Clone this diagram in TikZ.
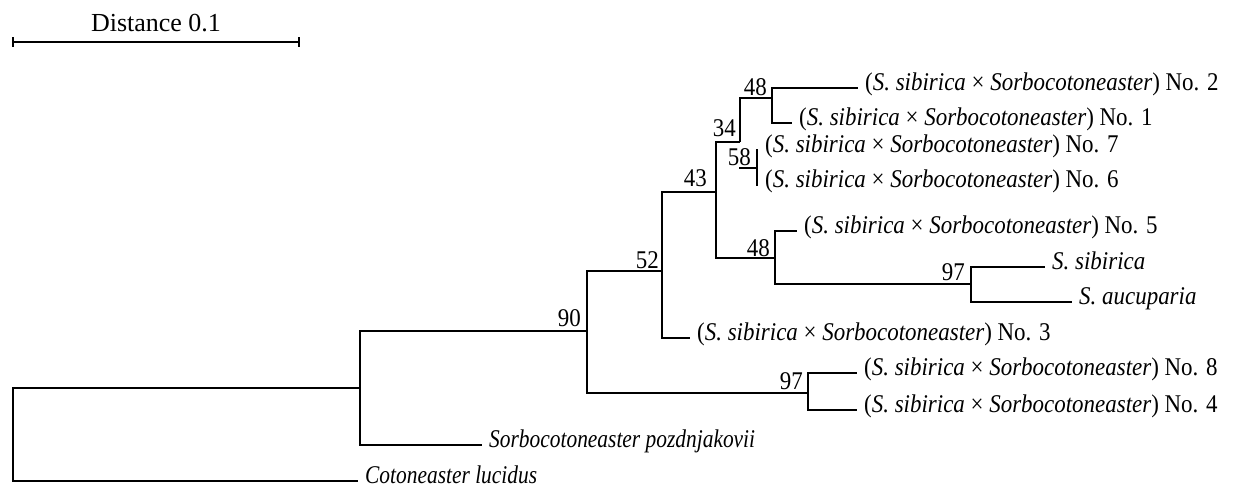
\documentclass[tikz,border=0pt]{standalone}
\usepackage{fontspec}
\setmainfont{Liberation Serif}[FakeStretch=0.9]
\newfontfamily\scalefont{Liberation Serif}
\newfontfamily\narrowfont{Liberation Serif}[FakeStretch=0.84]
\begin{document}
\begin{tikzpicture}[x=1pt,y=-1pt,line width=2.4pt,
  txt/.style={font=\fontsize{25.5}{30}\selectfont},
  leaf/.style={txt,anchor=west,inner xsep=6pt,inner ysep=0pt,text height=0.72em,text depth=0.18em},
  narrowleaf/.style={leaf,font=\narrowfont\fontsize{25.5}{30}\selectfont},
  boot/.style={txt,anchor=base east,inner sep=0pt},
  branch/.style={draw,line join=miter}]
\useasboundingbox (0,0) rectangle (1236,489);

% scale bar
\coordinate (sbL) at (13,42);
\coordinate (sbR) at (299,42);
\draw (sbL) -- (sbR);
\draw ([yshift=-5pt]sbL) -- ([yshift=5pt]sbL);
\draw ([yshift=-5pt]sbR) -- ([yshift=5pt]sbR);
\node[font=\scalefont\fontsize{26}{30}\selectfont,anchor=base,inner sep=0pt] (sbT) at (156,32) {Distance 0.1};

% internal nodes (x of the vertical bar, y of the incoming branch)
\coordinate (root) at (13,434);
\coordinate (nA)   at (360,388);
\coordinate (n90)  at (587,331);
\coordinate (n52)  at (662,271);
\coordinate (n43)  at (716,192);
\coordinate (n34)  at (740,142);
\coordinate (n48a) at (772,98);
\coordinate (n58s) at (739,168);
\coordinate (n58)  at (757,168);
\coordinate (n48b) at (775,258);
\coordinate (n97a) at (971,284);
\coordinate (n97b) at (808,393);

% leaves
\node[leaf] (l2)  at (858,88)  {(\textit{S. sibirica} × \textit{Sorbocotoneaster}) No. 2};
\node[leaf] (l1)  at (792,123) {(\textit{S. sibirica} × \textit{Sorbocotoneaster}) No. 1};
\node[leaf] (l7)  at (758,150) {(\textit{S. sibirica} × \textit{Sorbocotoneaster}) No. 7};
\node[leaf] (l6)  at (758,185) {(\textit{S. sibirica} × \textit{Sorbocotoneaster}) No. 6};
\node[leaf] (l5)  at (797,231) {(\textit{S. sibirica} × \textit{Sorbocotoneaster}) No. 5};
\node[leaf] (lsib) at (1045,267) {\textit{S. sibirica}};
\node[leaf] (lauc) at (1072,302) {\textit{S. aucuparia}};
\node[leaf] (l3)  at (690,338) {(\textit{S. sibirica} × \textit{Sorbocotoneaster}) No. 3};
\node[leaf] (l8)  at (857,373) {(\textit{S. sibirica} × \textit{Sorbocotoneaster}) No. 8};
\node[leaf] (l4)  at (857,410) {(\textit{S. sibirica} × \textit{Sorbocotoneaster}) No. 4};
\node[narrowleaf] (lsp) at (482,445) {\textit{Sorbocotoneaster pozdnjakovii}};
\node[narrowleaf] (lcl) at (358,481) {\textit{Cotoneaster lucidus}};

% branches
\draw[branch] (root) |- (nA);
\draw[branch] (root) |- (lcl.west);
\draw[branch] (nA) |- (n90);
\draw[branch] (nA) |- (lsp.west);
\draw[branch] (n90) |- (n52);
\draw[branch] (n90) |- (n97b);
\draw[branch] (n52) |- (n43);
\draw[branch] (n52) |- (l3.west);
\draw[branch] (n43) |- (n34);
\draw[branch] (n43) |- (n48b);
\draw[branch] (n34) |- (n48a);
\draw[branch] (n48a) |- (l2.west);
\draw[branch] (n48a) |- (l1.west);
\draw[branch] (n58s) -- (n58);
\draw[branch] (n58) |- (l7.west);
\draw[branch] (n58) |- (l6.west);
\draw[branch] (n48b) |- (l5.west);
\draw[branch] (n48b) |- (n97a);
\draw[branch] (n97a) |- (lsib.west);
\draw[branch] (n97a) |- (lauc.west);
\draw[branch] (n97b) |- (l8.west);
\draw[branch] (n97b) |- (l4.west);

% bootstrap support values
\node[boot] (b90)  at (582,326) {90};
\node[boot] (b52)  at (660,268) {52};
\node[boot] (b43)  at (708,186) {43};
\node[boot] (b34)  at (737,137) {34};
\node[boot] (b48a) at (768,96)  {48};
\node[boot] (b58)  at (752,166) {58};
\node[boot] (b48b) at (771,256) {48};
\node[boot] (b97a) at (966,280) {97};
\node[boot] (b97b) at (804,389) {97};
\end{tikzpicture}
\end{document}
